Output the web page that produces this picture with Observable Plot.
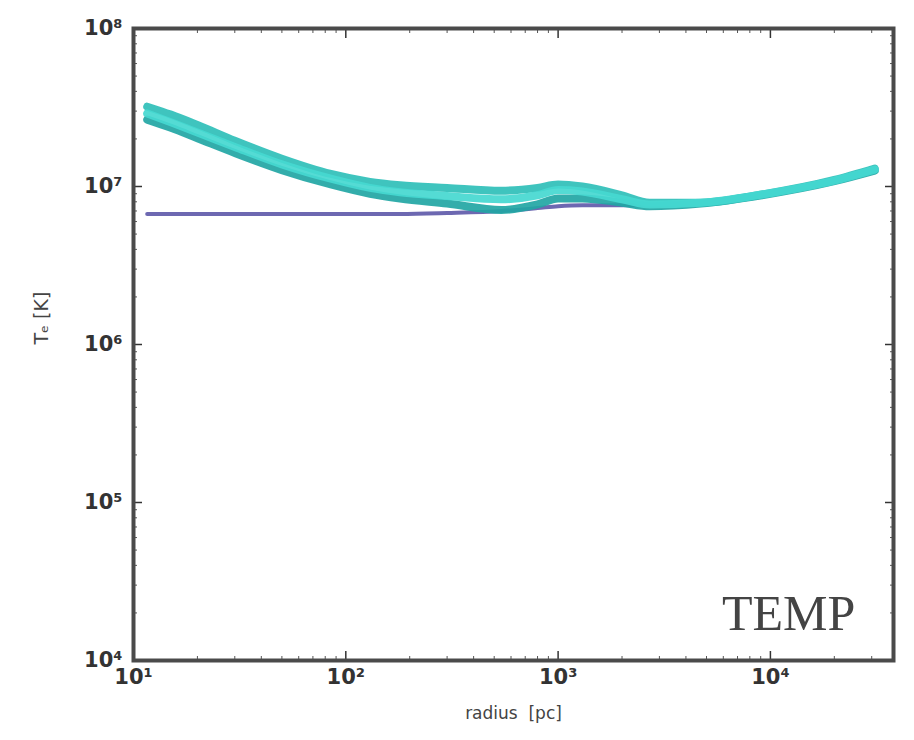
<!DOCTYPE html>
<html>
<head>
<meta charset="utf-8">
<script src="https://cdn.jsdelivr.net/npm/d3@7"></script>
<script src="https://cdn.jsdelivr.net/npm/@observablehq/plot@0.6"></script>
<style>
  html, body { margin: 0; padding: 0; background: #fff; }
  #chart { position: relative; width: 914px; height: 740px; }
  #temp { position: absolute; left: 722px; top: 584px; font-family: "Liberation Serif", "DejaVu Serif", serif; font-size: 50px; color: #444; line-height: normal; }
</style>
</head>
<body>
<div id="chart"></div>
<script>
const radius = [11.6, 15, 20, 30, 50, 85, 130, 180, 300, 540, 800, 1000, 1300, 2000, 2700, 4700, 9100, 20000, 31000];
const tempTop = [3.2e7, 2.85e7, 2.45e7, 1.95e7, 1.5e7, 1.2e7, 1.07e7, 1.02e7, 9.8e6, 9.4e6, 9.8e6, 1.03e7, 1.0e7, 8.8e6, 7.9e6, 7.9e6, 8.9e6, 1.1e7, 1.3e7];
const tempMid = [2.9e7, 2.55e7, 2.2e7, 1.78e7, 1.38e7, 1.12e7, 9.8e6, 9.2e6, 8.7e6, 8.3e6, 8.8e6, 9.5e6, 9.3e6, 8.3e6, 7.7e6, 7.9e6, 8.9e6, 1.09e7, 1.28e7];
const tempLow = [2.65e7, 2.35e7, 2.02e7, 1.63e7, 1.27e7, 1.03e7, 9.0e6, 8.4e6, 7.8e6, 7.1e6, 7.7e6, 8.4e6, 8.4e6, 7.9e6, 7.5e6, 7.8e6, 8.8e6, 1.08e7, 1.26e7];
const tempFlat = [6.7e6, 6.7e6, 6.7e6, 6.7e6, 6.7e6, 6.7e6, 6.7e6, 6.7e6, 6.8e6, 7.0e6, 7.3e6, 7.5e6, 7.6e6, 7.6e6, 7.6e6, 7.9e6, 8.9e6, 1.08e7, 1.25e7];

const seriesNames = ["flat", "low", "top", "mid"];
const seriesValues = [tempFlat, tempLow, tempTop, tempMid];
const seriesColors = ["#5d58a8", "#22a6a4", "#2fbfb8", "#45d8d0"];

const xMajor = [10, 100, 1000, 10000];
const xLabels = ["10¹", "10²", "10³", "10⁴"];
const yMajor = [1e4, 1e5, 1e6, 1e7, 1e8];
const yLabels = ["10⁴", "10⁵", "10⁶", "10⁷", "10⁸"];

const rows = [];
seriesNames.forEach((s, i) => radius.forEach((r, j) => rows.push({series: s, r, T: seriesValues[i][j]})));
const flatRows = rows.filter(d => d.series === "flat");
const bandRows = rows.filter(d => d.series !== "flat");

const xMinor = [];
for (let e = 1; e <= 4; e++) for (let k = 2; k <= 9; k++) { const v = k * 10 ** e; if (v <= 38000) xMinor.push(v); }
const yMinor = [];
for (let e = 4; e < 8; e++) for (let k = 2; k <= 9; k++) yMinor.push(k * 10 ** e);

const fmtX = d => xLabels[xMajor.indexOf(d)] ?? "";
const fmtY = d => yLabels[yMajor.indexOf(d)] ?? "";
const blank = () => "";
const axisStyle = {fontSize: 21, fontFamily: "DejaVu Sans", color: "#333"};

const chart = Plot.plot({
  width: 914,
  height: 740,
  marginLeft: 133,
  marginRight: 21,
  marginTop: 28,
  marginBottom: 80,
  style: {fontFamily: "DejaVu Sans", background: "#fff"},
  x: {type: "log", domain: [10, 38000]},
  y: {type: "log", domain: [1e4, 1e8]},
  color: {domain: seriesNames, range: seriesColors},
  marks: [
    Plot.line(flatRows, {x: "r", y: "T", stroke: "series", strokeWidth: 4, curve: "monotone-x", strokeOpacity: 0.9}),
    Plot.line(bandRows, {x: "r", y: "T", z: "series", stroke: "series", strokeWidth: 8, curve: "monotone-x", strokeOpacity: 0.92}),
    Plot.axisX(xMajor, {anchor: "bottom", tickSize: -9, tickPadding: 18, tickFormat: fmtX, stroke: "#333", strokeWidth: 1.5, ...axisStyle, fontWeight: "bold", label: null}),
    Plot.axisX(xMinor, {anchor: "bottom", tickSize: -4, tickFormat: blank, stroke: "#555", label: null}),
    Plot.axisX(xMajor, {anchor: "top", tickSize: -9, tickFormat: blank, stroke: "#333", strokeWidth: 1.5, label: null}),
    Plot.axisX(xMinor, {anchor: "top", tickSize: -4, tickFormat: blank, stroke: "#555", label: null}),
    Plot.axisY(yMajor, {anchor: "left", tickSize: -9, tickPadding: 20, tickFormat: fmtY, stroke: "#333", strokeWidth: 1.5, ...axisStyle, fontWeight: "bold", label: null}),
    Plot.axisY(yMinor, {anchor: "left", tickSize: -4, tickFormat: blank, stroke: "#555", label: null}),
    Plot.axisY(yMajor, {anchor: "right", tickSize: -9, tickFormat: blank, stroke: "#333", strokeWidth: 1.5, label: null}),
    Plot.axisY(yMinor, {anchor: "right", tickSize: -4, tickFormat: blank, stroke: "#555", label: null}),
    Plot.text(["radius  [pc]"], {frameAnchor: "bottom", dy: 58, fontSize: 17, fill: "#444", text: d => d}),
    Plot.text(["Tₑ [K]"], {frameAnchor: "left", dx: -92, rotate: -90, fontSize: 19, fill: "#444", text: d => d}),
    Plot.frame({stroke: "#4a4a4a", strokeWidth: 4})
  ]
});
const host = document.getElementById("chart");
host.appendChild(chart);
const t = document.createElement("div");
t.id = "temp";
t.textContent = "TEMP";
host.appendChild(t);
</script>
</body>
</html>
